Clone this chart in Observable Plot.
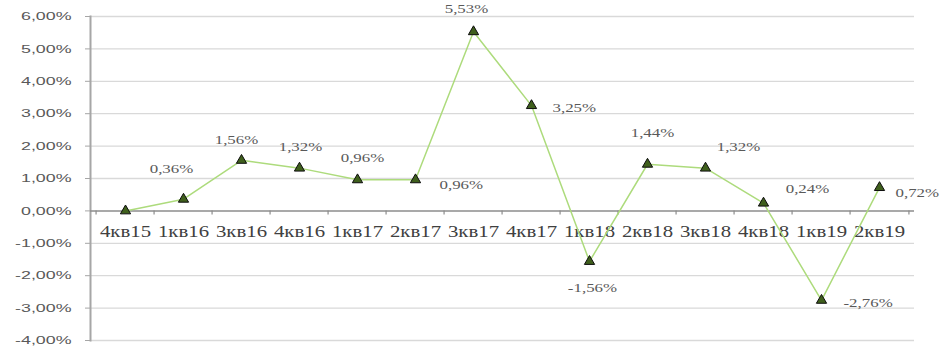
<!DOCTYPE html>
<html>
<head>
<meta charset="utf-8">
<script src="https://cdn.jsdelivr.net/npm/d3@7"></script>
<script src="https://cdn.jsdelivr.net/npm/@observablehq/plot@0.6"></script>
<style>
  body { margin: 0; background: #fff; }
  #chart svg { display: block; }
</style>
</head>
<body>
<div id="chart"></div>
<script>
// Quarterly change, %
const quarters = ["4кв15", "1кв16", "3кв16", "4кв16", "1кв17", "2кв17", "3кв17",
                  "4кв17", "1кв18", "2кв18", "3кв18", "4кв18", "1кв19", "2кв19"];
const growth = [0.00, 0.36, 1.56, 1.32, 0.96, 0.96, 5.53,
                3.25, -1.56, 1.44, 1.32, 0.24, -2.76, 0.72];
const yTicks = [-4, -3, -2, -1, 0, 1, 2, 3, 4, 5, 6];

const rows = quarters.map((q, i) => ({q, v: growth[i]}));
const fmt = v => v.toFixed(2).replace(".", ",") + "%";

const W = 949, H = 350;
const M = {top: 16, right: 35, bottom: 10, left: 90};
const bw = (W - M.left - M.right) / quarters.length;

const serif = "'Liberation Serif', 'Times New Roman', serif";
const sans = "'Liberation Sans', Arial, sans-serif";
const textGray = "#595959";

// data label placement around each point: [dx, dy, anchor]
const labelPlacement = {
  "1кв16": [-12, -30, "middle"],
  "3кв16": [-5, -21, "middle"],
  "4кв16": [1, -21, "middle"],
  "1кв17": [5, -22, "middle"],
  "2кв17": [24, 5, "start"],
  "3кв17": [-7, -23, "middle"],
  "4кв17": [21, 2, "start"],
  "1кв18": [3, 26, "middle"],
  "2кв18": [5, -31, "middle"],
  "3кв18": [33, -21, "middle"],
  "4кв18": [44, -14, "middle"],
  "1кв19": [22, 3, "start"],
  "2кв19": [16, 5, "start"]
};

const labelMarks = rows
  .filter(r => labelPlacement[r.q])
  .map(r => {
    const [dx, dy, anchor] = labelPlacement[r.q];
    return Plot.text([r], {
      x: "q", y: "v", text: d => fmt(d.v), dx, dy, textAnchor: anchor,
      lineAnchor: "middle", fontSize: 13, fontFamily: serif, fill: textGray,
      className: "wide"
    });
  });

const chart = Plot.plot({
  width: W,
  height: H,
  marginTop: M.top,
  marginRight: M.right,
  marginBottom: M.bottom,
  marginLeft: M.left,
  x: {type: "band", domain: quarters, padding: 0, axis: null},
  y: {domain: [-4, 6], axis: null},
  marks: [
    // horizontal gridlines
    Plot.ruleY(yTicks.filter(t => t !== 0), {stroke: "#d9d9d9", strokeWidth: 1.3}),
    // vertical axis with its ticks and labels
    Plot.axisY(yTicks, {
      label: null, tickFormat: fmt, tickSize: 5, tickPadding: 14, stroke: "#a6a6a6",
      fill: textGray, fontSize: 11.5, fontFamily: sans, className: "yax"
    }),
    Plot.frame({anchor: "left", stroke: "#a6a6a6", strokeWidth: 2}),
    // zero baseline with category separators
    Plot.ruleY([0], {stroke: "#8c8c8c", strokeWidth: 1.5}),
    Plot.ruleX(quarters, {x: d => d, y1: 0, y2: -0.13, dx: -bw / 2, stroke: "#8c8c8c", strokeWidth: 1.2}),
    Plot.ruleX(quarters.slice(-1), {x: d => d, y1: 0, y2: -0.13, dx: bw / 2, stroke: "#8c8c8c", strokeWidth: 1.2}),
    // category labels along the zero line
    Plot.text(quarters, {
      x: d => d, y: () => 0, text: d => d, dy: 21, lineAnchor: "middle",
      fontSize: 16, fontFamily: serif, fill: "#404040", className: "wide"
    }),
    // series
    Plot.lineY(rows, {x: "q", y: "v", stroke: "#addb7c", strokeWidth: 1.5}),
    Plot.dot(rows, {
      x: "q", y: "v", symbol: "triangle", r: 3.8,
      fill: "#3f5f1c", stroke: "#0d0d0d", strokeWidth: 1
    }),
    ...labelMarks
  ]
});

// widen the lettering horizontally around each text anchor
function widen(selector, k) {
  d3.select(chart).selectAll(selector).each(function () {
    const t = this.getAttribute("transform") || "";
    this.setAttribute("transform", (t + ` scale(${k},1)`).trim());
  });
}
widen(".wide text", 1.3);
widen(".yax text", 1.55);

document.getElementById("chart").appendChild(chart);
</script>
</body>
</html>
